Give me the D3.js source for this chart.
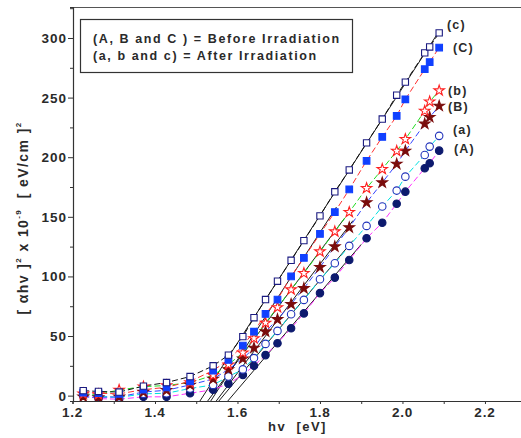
<!DOCTYPE html>
<html>
<head>
<meta charset="utf-8">
<script src="https://cdn.jsdelivr.net/npm/d3@7"></script>
<style>
  body { margin: 0; background: #fff; }
  text { font-family: "Liberation Sans", Arial, sans-serif; font-weight: bold; fill: #2a2a2a; }
</style>
</head>
<body>
<div id="chart"></div>
<script>
// photon energy hv (eV), shared by all curves
const hv = [1.226, 1.263, 1.313, 1.372, 1.428, 1.485, 1.541, 1.578, 1.613, 1.640, 1.668, 1.697,
            1.730, 1.761, 1.800, 1.836, 1.871, 1.913, 1.951, 1.986, 2.007, 2.054, 2.066, 2.089];

// (alpha hv)^2 x 10^-9, before irradiation (A, B, C) and after (a, b, c)
const valA = [0, -2.5, -3, -1, -1, 2, 5, 10, 17.4, 25, 34, 44, 56.5, 69, 86, 99, 113.8, 132, 145, 161, 171.1, 190.8, 195, 205.5];
const vala = [1.0, -0.5, -1.5, 1.5, 2, 6, 9, 16, 22, 31.5, 43.4, 54.3, 68.3, 80.3, 97.6, 111, 125.6, 142.4, 158.6, 172, 183.7, 201.9, 208.9, 217.9];
const valB = [-1, -1.5, -1, 3, 4.5, 9, 14, 22, 31, 40, 53.7, 64, 76.7, 90, 107.7, 125, 141, 162, 178.7, 194.3, 205.3, 228, 233.6, 243];
const valb = [1.5, 1.0, 4.8, 7.5, 8.5, 11, 17, 26, 36, 48, 61, 74, 89, 102.7, 120.8, 137.6, 153.9, 174, 190, 205.2, 215.1, 238.8, 246.6, 255.9];
const valC = [2.5, 2.0, 1.5, 5.0, 7, 12, 21, 30, 42, 53.6, 68.5, 80.6, 100, 115.6, 135.6, 154, 173, 197, 217, 234.6, 248.6, 273.8, 279.8, 292];
const valc = [4.2, 3.5, 3.0, 8.0, 11, 16, 25, 34, 49.5, 65.4, 80.6, 96, 113.5, 130, 150.8, 171, 189.3, 212, 232, 252, 263, 287.5, 292.5, 304.3];

const xTicks = [1.2, 1.4, 1.6, 1.8, 2.0, 2.2];
const yTicks = [0, 50, 100, 150, 200, 250, 300];
const legendLines = ["(A, B and C ) = Before Irradiation", "(a, b and c) = After Irradiation"];

const series = [
  { key: "A", label: "(A)", vals: valA, shape: d3.symbolCircle, size: 44, fill: "#0d1a6e", stroke: "#0d1a6e", line: "#ff33ff", fitEnd: 1.90, lx: 454, ly: 153 },
  { key: "a", label: "(a)", vals: vala, shape: d3.symbolCircle, size: 44, fill: "#fff", stroke: "#2233bb", line: "#00e0e0", fitEnd: 1.88, lx: 453, ly: 134 },
  { key: "B", label: "(B)", vals: valB, shape: d3.symbolStar, size: 34, fill: "#7a0c0c", stroke: "#7a0c0c", line: "#3344ff", fitEnd: 1.88, lx: 448, ly: 111 },
  { key: "b", label: "(b)", vals: valb, shape: d3.symbolStar, size: 34, fill: "#fff", stroke: "#ff2020", line: "#22dd22", fitEnd: 1.86, lx: 448, ly: 95 },
  { key: "C", label: "(C)", vals: valC, shape: d3.symbolSquare, size: 44, fill: "#1040ff", stroke: "#1040ff", line: "#ff3030", fitEnd: 1.84, lx: 453, ly: 52 },
  { key: "c", label: "(c)", vals: valc, shape: d3.symbolSquare, size: 40, fill: "#fff", stroke: "#1a1a80", line: "#111", fitEnd: 2.089, lx: 447, ly: 29 }
];

const W = 521, H = 438;
const x = d3.scaleLinear().domain([1.2, 2.3]).range([72.5, 526.2]);
const y = d3.scaleLinear().domain([-4.5, 326]).range([401, 7]);

const svg = d3.select("#chart").append("svg").attr("width", W).attr("height", H);

svg.append("defs").append("clipPath").attr("id", "plot")
  .append("rect").attr("x", 73).attr("y", 7).attr("width", W - 73).attr("height", 394);

// frame top
svg.append("line").attr("x1", 73).attr("x2", W).attr("y1", 7.5).attr("y2", 7.5)
  .attr("stroke", "#555").attr("stroke-width", 1.2);

// axes
const xAxis = svg.append("g").attr("transform", "translate(0,401)")
  .call(d3.axisBottom(x).tickValues(d3.range(1.2, 2.31, 0.1)).tickSize(3).tickFormat(""));
xAxis.selectAll("text").remove();
const yAxis = svg.append("g").attr("transform", "translate(73,0)")
  .call(d3.axisLeft(y).tickValues(d3.range(0, 326, 25)).tickSize(3).tickFormat(""));
yAxis.selectAll(".tick line").filter(d => d % 50 === 0).attr("x2", -5);
[xAxis, yAxis].forEach(g => {
  g.select(".domain").attr("stroke", "#333").attr("stroke-width", 1.2);
  g.selectAll(".tick line").attr("stroke", "#333");
});

svg.append("g").selectAll("text").data(xTicks).join("text")
  .attr("x", d => x(d)).attr("y", 417).attr("text-anchor", "middle")
  .attr("font-size", 13.5).attr("letter-spacing", 0.8).text(d => d.toFixed(1));
svg.append("g").selectAll("text").data(yTicks).join("text")
  .attr("x", 67).attr("y", d => y(d) + 5).attr("text-anchor", "end")
  .attr("font-size", 13.5).attr("letter-spacing", 1).text(d => d);

// axis titles
svg.append("text").attr("x", 268).attr("y", 431).attr("font-size", 13).attr("letter-spacing", 1.5)
  .text("hv  [eV]").attr("xml:space", "preserve");
const yt = svg.append("text").attr("transform", "translate(28,218) rotate(-90)")
  .attr("text-anchor", "middle").attr("font-size", 14).attr("letter-spacing", 1.4)
  .attr("xml:space", "preserve");
yt.append("tspan").text("[ \u03b1hv ]");
yt.append("tspan").attr("dy", -7).attr("font-size", 8).text("2");
yt.append("tspan").attr("dy", 7).text(" x 10");
yt.append("tspan").attr("dy", -7).attr("font-size", 8).text("-9");
yt.append("tspan").attr("dy", 7).text("  [ eV/cm ]");
yt.append("tspan").attr("dy", -7).attr("font-size", 8).text("2");

const plot = svg.append("g").attr("clip-path", "url(#plot)");

// linear fits of the straight part, extrapolated to the axis
series.forEach(s => {
  const pts = hv.map((h, i) => [h, s.vals[i]]).filter(p => p[0] >= 1.64);
  const mx = d3.mean(pts, p => p[0]), my = d3.mean(pts, p => p[1]);
  const k = d3.sum(pts, p => (p[0] - mx) * (p[1] - my)) / d3.sum(pts, p => (p[0] - mx) ** 2);
  const x0 = mx + (-5 - my) / k;
  plot.append("line")
    .attr("x1", x(x0)).attr("y1", y(-5))
    .attr("x2", x(s.fitEnd)).attr("y2", y(my + k * (s.fitEnd - mx)))
    .attr("stroke", "#000").attr("stroke-width", 0.9);
});

// connecting dashed lines
const line = d3.line().x((d, i) => x(hv[i])).y(d => y(d));
series.forEach(s => {
  plot.append("path").attr("d", line(s.vals)).attr("fill", "none")
    .attr("stroke", s.line).attr("stroke-width", 1).attr("stroke-dasharray", "6,3");
});

// markers
series.forEach(s => {
  plot.append("g").selectAll("path").data(s.vals).join("path")
    .attr("transform", (d, i) => `translate(${x(hv[i])},${y(d)})`)
    .attr("d", d3.symbol().type(s.shape).size(s.size))
    .attr("fill", s.fill).attr("stroke", s.stroke).attr("stroke-width", 1.1);
});

// curve labels
svg.append("g").selectAll("text").data(series).join("text")
  .attr("x", d => d.lx).attr("y", d => d.ly).attr("font-size", 12.5).attr("letter-spacing", 1.2)
  .text(d => d.label);

// legend box
svg.append("rect").attr("x", 80.5).attr("y", 19.5).attr("width", 272).attr("height", 53)
  .attr("fill", "#fff").attr("stroke", "#333").attr("stroke-width", 1.2);
svg.append("g").selectAll("text").data(legendLines).join("text")
  .attr("x", 93).attr("y", (d, i) => 43 + i * 17).attr("font-size", 12.5).attr("letter-spacing", 1.6)
  .text(d => d);
</script>
</body>
</html>
